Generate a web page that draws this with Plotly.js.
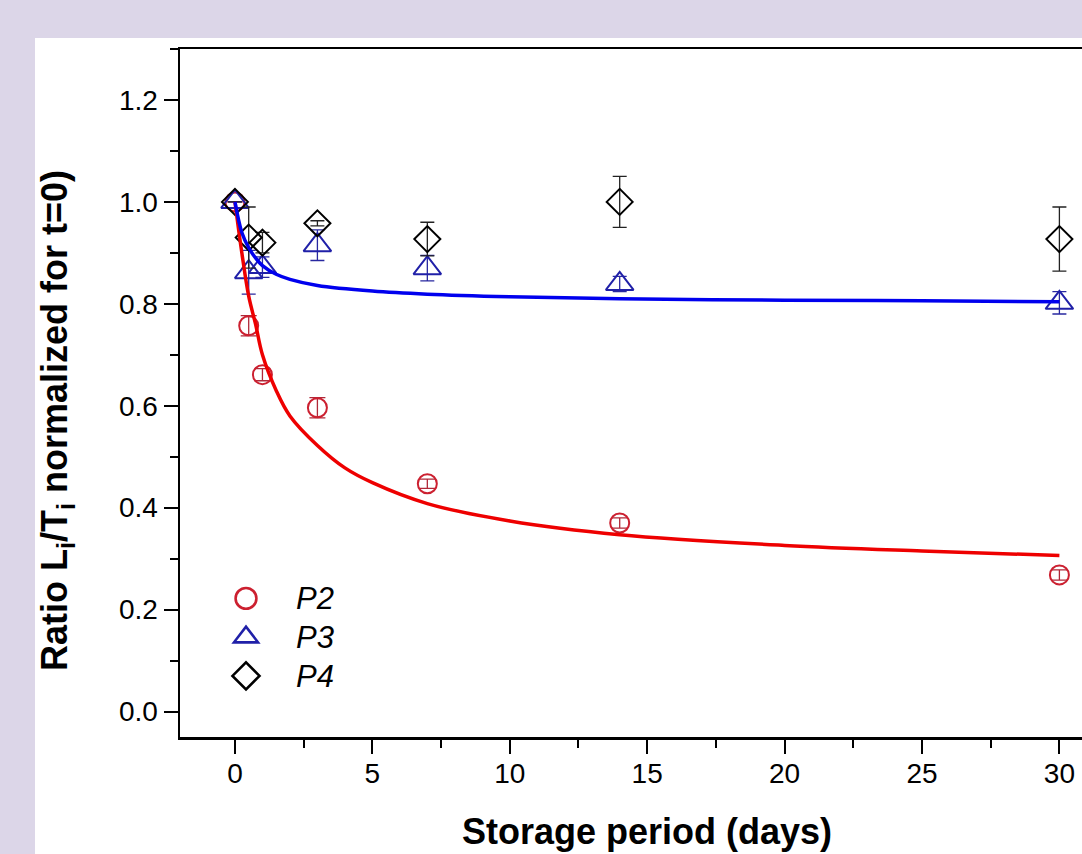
<!DOCTYPE html>
<html>
<head>
<meta charset="utf-8">
<script src="https://cdn.plot.ly/plotly-3.0.1.min.js"></script>
<style>
  html, body { margin: 0; padding: 0; background: #dcd6e8; }
  #chart { width: 1082px; height: 854px; }
</style>
</head>
<body>
<div id="chart"></div>
<script>
// ---- data ----
const days = [0, 0.5, 1, 3, 7, 14, 30];

const p2 = [1.0, 0.757, 0.661, 0.596, 0.447, 0.370, 0.268];
const p2Err = [0, 0.02, 0.012, 0.02, 0.009, 0.01, 0.01];

const p3 = [1.0, 0.862, 0.872, 0.915, 0.870, 0.839, 0.802];
const p3Err = [0, 0.043, 0.02, 0.03, 0.025, 0.015, 0.022];

const p4 = [1.0, 0.93, 0.92, 0.958, 0.927, 1.0, 0.927];
const p4Err = [0, 0.06, 0.02, 0.005, 0.033, 0.05, 0.063];

// fitted curves, points
const fitP2X = [0, 0.25, 0.5, 0.75, 1.0, 1.5, 2.0, 3.0, 4.0, 5.0, 7.0, 10, 14, 20, 25, 30];
const fitP2Y = [1.0, 0.90, 0.815, 0.76, 0.70, 0.63, 0.58, 0.522, 0.478, 0.449, 0.408, 0.374, 0.347, 0.326, 0.315, 0.306];

const fitP3X = [0, 0.25, 0.5, 0.75, 1.0, 1.5, 2.0, 3.0, 5.0, 7.0, 10, 14, 20, 25, 30];
const fitP3Y = [1.0, 0.94, 0.91, 0.89, 0.875, 0.858, 0.848, 0.836, 0.825, 0.819, 0.814, 0.81, 0.807, 0.806, 0.804];

const seriesNames = ['P2', 'P3', 'P4'];
const xTicks = [0, 5, 10, 15, 20, 25, 30];
const yTicks = [0.0, 0.2, 0.4, 0.6, 0.8, 1.0, 1.2];

// ---- styling ----
const FONT = 'Liberation Sans, Arial, sans-serif';
const redMarker = '#cc2030';
const blueMarker = '#2020a8';

const legendName = n => '<span style="font-size:31px">' + n + '</span>';

const traces = [
  {
    x: days, y: p2, name: legendName(seriesNames[0]), type: 'scatter', mode: 'markers',
    marker: { symbol: 'circle-open', size: 19, color: redMarker, line: { width: 2, color: redMarker } },
    error_y: { type: 'data', array: p2Err, visible: true, color: '#b02838', thickness: 1.3, width: 8 },
    cliponaxis: false
  },
  {
    x: days, y: p3, name: legendName(seriesNames[1]), type: 'scatter', mode: 'markers',
    marker: { symbol: 'triangle-up-open', size: 24, color: blueMarker, line: { width: 2, color: blueMarker } },
    error_y: { type: 'data', array: p3Err, visible: true, color: '#2828a0', thickness: 1.3, width: 7 },
    cliponaxis: false
  },
  {
    x: days, y: p4, name: legendName(seriesNames[2]), type: 'scatter', mode: 'markers',
    marker: { symbol: 'diamond-open', size: 20, color: '#000000', line: { width: 2, color: '#000000' } },
    error_y: { type: 'data', array: p4Err, visible: true, color: '#222222', thickness: 1.3, width: 7 },
    cliponaxis: false
  },
  {
    x: fitP2X, y: fitP2Y, type: 'scatter', mode: 'lines', showlegend: false, hoverinfo: 'skip',
    line: { color: '#ee0000', width: 3.5, shape: 'spline', smoothing: 1 }
  },
  {
    x: fitP3X, y: fitP3Y, type: 'scatter', mode: 'lines', showlegend: false, hoverinfo: 'skip',
    line: { color: '#0000ee', width: 3.5, shape: 'spline', smoothing: 1 }
  }
];

const L = 180, R = 1082, T = 49, B = 737;
const W = R - L, H = B - T;

const layout = {
  width: 1082, height: 854,
  margin: { l: L, r: 1082 - R, t: T, b: 854 - B, pad: 0 },
  paper_bgcolor: '#dcd6e8',
  plot_bgcolor: '#ffffff',
  font: { family: FONT, color: '#000000', size: 28 },
  showlegend: true,
  legend: {
    x: (196 - L) / W, y: (B - 574) / H, xanchor: 'left', yanchor: 'top',
    bgcolor: 'rgba(0,0,0,0)', borderwidth: 0,
    font: { family: FONT, size: 27.5, style: 'italic', color: '#000' },
    itemwidth: 90, tracegroupgap: 0
  },
  xaxis: {
    range: [-2, (R - 235) / 27.48],
    tickmode: 'array', tickvals: xTicks, ticktext: xTicks.map(String),
    ticks: 'outside', ticklen: 14, tickwidth: 2, tickcolor: '#000',
    minor: { dtick: 2.5, tick0: 0, ticks: 'outside', ticklen: 8, tickwidth: 2, tickcolor: '#000' },
    showline: true, linewidth: 2.5, linecolor: '#000', mirror: true,
    showgrid: false, zeroline: false,
    tickfont: { family: FONT, size: 28, color: '#000' },
    ticklabelstandoff: -4
  },
  yaxis: {
    range: [-0.05, 1.3],
    tickmode: 'array', tickvals: yTicks, ticktext: yTicks.map(v => v.toFixed(1)),
    ticks: 'outside', ticklen: 14, tickwidth: 2, tickcolor: '#000',
    minor: { dtick: 0.1, tick0: 0, ticks: 'outside', ticklen: 8, tickwidth: 2, tickcolor: '#000' },
    showline: true, linewidth: 2.5, linecolor: '#000', mirror: false,
    showgrid: false, zeroline: false,
    tickfont: { family: FONT, size: 28, color: '#000' },
    ticklabelstandoff: 0
  },
  shapes: [
    {
      type: 'rect', xref: 'paper', yref: 'paper', layer: 'below',
      x0: (35 - L) / W, x1: 1.05, y0: (B - 900) / H, y1: (B - 38) / H,
      fillcolor: '#ffffff', line: { width: 0 }
    }
  ],
  annotations: [
    {
      text: 'Storage period (days)', xref: 'x', yref: 'paper',
      x: 15, y: (B - 831) / H, xanchor: 'center', yanchor: 'middle', showarrow: false,
      font: { family: FONT, size: 36, weight: 700, color: '#000' }
    },
    {
      text: 'Ratio L<sub>i</sub>/T<sub>i</sub> normalized for t=0)', xref: 'paper', yref: 'paper',
      x: (57 - L) / W, y: (B - 421) / H, xanchor: 'center', yanchor: 'middle', showarrow: false,
      textangle: -90,
      font: { family: FONT, size: 36, weight: 700, color: '#000' }
    }
  ]
};

Plotly.newPlot('chart', traces, layout, { displayModeBar: false, staticPlot: true }).then(gd => {
  // enlarge legend symbols to the size used in the reference (Plotly caps them at 16px)
  gd.querySelectorAll('.legend .legendpoints path.scatterpts').forEach(p => {
    const t = p.getAttribute('transform') || '';
    p.setAttribute('transform', t + ' scale(1.3)');
  });
});
</script>
</body>
</html>
